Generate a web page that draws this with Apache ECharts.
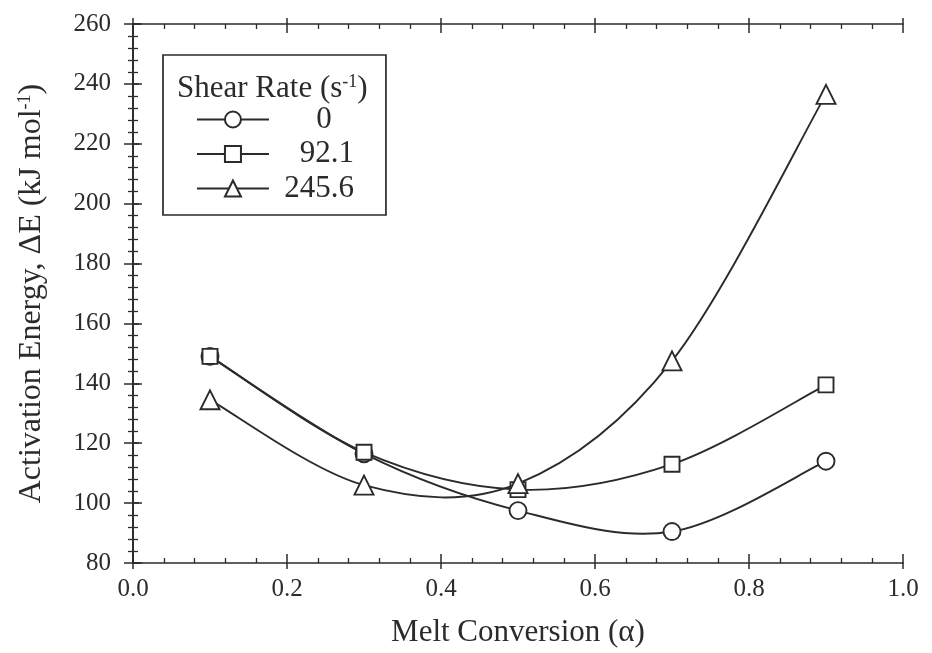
<!DOCTYPE html>
<html>
<head>
<meta charset="utf-8">
<script src="https://cdn.jsdelivr.net/npm/echarts@6/dist/echarts.min.js"></script>
<style>html,body{margin:0;padding:0;background:#fff}#c{width:932px;height:653px}</style>
</head>
<body>
<div id="c"></div>
<script>
var conversion = [0.1, 0.3, 0.5, 0.7, 0.9];
var shearRates = ['0', '92.1', '245.6'];
var energyRate0 = [149, 116.5, 97.5, 90.5, 114];
var energyRate92 = [149, 117, 104.5, 113, 139.5];
var energyRate245 = [134.5, 106, 106.5, 147.5, 236.5];
var symbols = ['circle', 'rect', 'triangle'];
var symbolSizes = [17, 15, 19];

var FONT = '"Liberation Serif", "Times New Roman", serif';
var INK = '#2b2b2b';
var allEnergy = [energyRate0, energyRate92, energyRate245];

function pairs(ys) { return conversion.map(function (x, i) { return [x, ys[i]]; }); }

// smooth curve through the data points (cubic spline style, drawn in pixel space via the axes)
function curveSeries(ys, i) {
  var pts = pairs(ys);
  return {
    type: 'custom',
    coordinateSystem: 'cartesian2d',
    xAxisIndex: 0, yAxisIndex: 0,
    data: pts,
    silent: true,
    z: 2,
    renderItem: function (params, api) {
      if (params.dataIndex !== 0) return null;
      var P = pts.map(function (p) { return api.coord(p); });
      var n = P.length;
      var d = 'M' + P[0][0] + ' ' + P[0][1];
      for (var k = 0; k < n - 1; k++) {
        var p0 = P[Math.max(k - 1, 0)], p1 = P[k], p2 = P[k + 1], p3 = P[Math.min(k + 2, n - 1)];
        var c1x = p1[0] + (p2[0] - p0[0]) / 6, c1y = p1[1] + (p2[1] - p0[1]) / 6;
        var c2x = p2[0] - (p3[0] - p1[0]) / 6, c2y = p2[1] - (p3[1] - p1[1]) / 6;
        d += ' C' + c1x + ' ' + c1y + ' ' + c2x + ' ' + c2y + ' ' + p2[0] + ' ' + p2[1];
      }
      return {
        type: 'path',
        shape: { pathData: d },
        style: { stroke: INK, lineWidth: 1.9, fill: 'none' }
      };
    }
  };
}

var markerSeries = allEnergy.map(function (ys, i) {
  return {
    name: shearRates[i],
    type: 'line',
    data: pairs(ys),
    smooth: false,
    symbol: symbols[i],
    symbolSize: symbolSizes[i],
    showSymbol: true,
    lineStyle: { color: INK, width: 1.9, opacity: 0 },
    itemStyle: { color: '#fff', borderColor: INK, borderWidth: 1.9 },
    z: 5 + i
  };
});
var curves = allEnergy.map(curveSeries);

function xAxisDef(pos, opts) {
  return Object.assign({
    type: 'value', position: pos, min: 0, max: 1, interval: 0.2,
    axisLine: { show: true, lineStyle: { color: INK, width: 1.7 } },
    axisTick: { show: true, inside: true, length: 9, lineStyle: { color: INK, width: 1.5 } },
    minorTick: { show: true, splitNumber: 5, length: 5, lineStyle: { color: INK, width: 1.3 } },
    axisLabel: { show: false },
    splitLine: { show: false }
  }, opts);
}
function yAxisDef(pos, opts) {
  return Object.assign({
    type: 'value', position: pos, min: 80, max: 260, interval: 20,
    axisLine: { show: true, lineStyle: { color: INK, width: 1.7 } },
    axisTick: { show: true, inside: true, length: 9, lineStyle: { color: INK, width: 1.5 } },
    minorTick: { show: true, splitNumber: 5, length: 5, lineStyle: { color: INK, width: 1.3 } },
    axisLabel: { show: false },
    splitLine: { show: false }
  }, opts);
}
var outTick = { show: true, inside: false, length: 6, lineStyle: { color: INK, width: 1.5 } };
var supStyle = { fontFamily: FONT, fontSize: 18, verticalAlign: 'top', padding: [0, 0, 14, 0], color: INK };

var option = {
  backgroundColor: '#fff',
  animation: false,
  textStyle: { fontFamily: FONT, color: INK },
  grid: { left: 133, right: 29, top: 24, bottom: 88 },
  title: {
    text: 'Shear Rate (s{sup|-1})',
    left: 172, top: 68,
    textStyle: {
      fontFamily: FONT, fontSize: 31, fontWeight: 'normal', color: INK,
      rich: { sup: supStyle }
    }
  },
  legend: {
    data: shearRates,
    orient: 'vertical',
    left: 163, top: 55,
    padding: [49, 32, 11, 33],
    borderColor: INK, borderWidth: 1.7,
    itemWidth: 72, itemHeight: 20, itemGap: 3.5,
    lineStyle: { color: INK, width: 1.9, opacity: 1 },
    formatter: function (name) { return name === '0' ? '{z|0}' : '{r|' + name + '}'; },
    textStyle: {
      fontFamily: FONT, fontSize: 31, color: INK, lineHeight: 30,
      rich: {
        z: { fontFamily: FONT, fontSize: 31, color: INK, width: 60, align: 'center', padding: [0, 0, 0, 20] },
        r: { fontFamily: FONT, fontSize: 31, color: INK, width: 80, align: 'right' }
      }
    }
  },
  xAxis: [
    xAxisDef('bottom', {
      name: 'Melt Conversion (α)', nameLocation: 'middle', nameGap: 54,
      nameTextStyle: { fontFamily: FONT, fontSize: 31, color: INK },
      axisLabel: { show: true, margin: 14, fontFamily: FONT, fontSize: 25, color: INK,
        formatter: function (v) { return v.toFixed(1); } }
    }),
    xAxisDef('bottom', { axisLine: { show: false }, minorTick: { show: false }, axisTick: outTick }),
    xAxisDef('top', {}),
    xAxisDef('top', { axisLine: { show: false }, minorTick: { show: false }, axisTick: outTick })
  ],
  yAxis: [
    yAxisDef('left', {
      name: 'Activation Energy, ΔE (kJ mol{sup|-1})', nameLocation: 'middle', nameGap: 85,
      nameTextStyle: { fontFamily: FONT, fontSize: 32, color: INK, rich: { sup: supStyle } },
      axisLabel: { show: true, margin: 22, fontFamily: FONT, fontSize: 25, color: INK }
    }),
    yAxisDef('left', { axisLine: { show: false }, minorTick: { show: false }, axisTick: outTick }),
    yAxisDef('right', {}),
    yAxisDef('right', { axisLine: { show: false }, minorTick: { show: false }, axisTick: outTick })
  ],
  series: curves.concat(markerSeries)
};

var chart = echarts.init(document.getElementById('c'), null, { renderer: 'canvas' });
chart.setOption(option);
</script>
</body>
</html>
